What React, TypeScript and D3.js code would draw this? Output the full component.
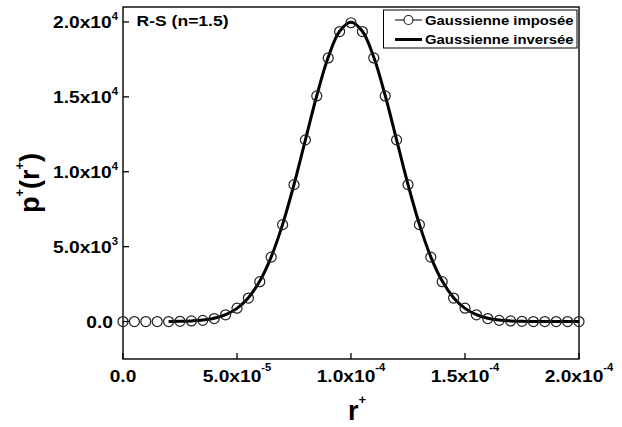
import React from "react";
import * as d3 from "d3";

// r+ positions of the imposed Gaussian markers
const rImposed = [
  0, 0.000005, 0.00001, 0.000015, 0.00002, 0.000025, 0.00003, 0.000035, 0.00004, 0.000045,
  0.00005, 0.000055, 0.00006, 0.000065, 0.00007, 0.000075, 0.00008, 0.000085, 0.00009, 0.000095,
  0.0001, 0.000105, 0.00011, 0.000115, 0.00012, 0.000125, 0.00013, 0.000135, 0.00014, 0.000145,
  0.00015, 0.000155, 0.00016, 0.000165, 0.00017, 0.000175, 0.00018, 0.000185, 0.00019, 0.000195,
  0.0002,
];
const pImposed = [
  0, 0, 0, 0, 0, 15, 40, 80, 200, 450,
  890, 1570, 2660, 4300, 6470, 9140, 12130, 15060, 17600, 19360,
  19950, 19360, 17600, 15060, 12130, 9140, 6470, 4300, 2660, 1570,
  890, 450, 200, 80, 40, 15, 0, 0, 0, 0,
  0,
];

// r+ positions of the inverted Gaussian curve
const rInverse = [
  0.00002, 0.000025, 0.00003, 0.000035, 0.00004, 0.000045,
  0.00005, 0.000055, 0.00006, 0.000065, 0.00007, 0.000075, 0.00008, 0.000085, 0.00009, 0.000095,
  0.0001, 0.000105, 0.00011, 0.000115, 0.00012, 0.000125, 0.00013, 0.000135, 0.00014, 0.000145,
  0.00015, 0.000155, 0.00016, 0.000165, 0.00017, 0.000175, 0.00018, 0.000185, 0.00019, 0.000195,
  0.0002,
];
const pInverse = [
  0, 15, 45, 100, 220, 455,
  880, 1590, 2700, 4320, 6490, 9150, 12130, 15090, 17640, 19380,
  19980, 19380, 17640, 15090, 12130, 9150, 6490, 4320, 2700, 1590,
  880, 455, 220, 100, 45, 15, 0, 0, 0, 0,
  0,
];

const xTicks = [0, 0.00005, 0.0001, 0.00015, 0.0002];
const xTickMant = ["0.0", "5.0x10", "1.0x10", "1.5x10", "2.0x10"];
const xTickExp = ["", "-5", "-4", "-4", "-4"];
const yTicks = [0, 5000, 10000, 15000, 20000];
const yTickMant = ["0.0", "5.0x10", "1.0x10", "1.5x10", "2.0x10"];
const yTickExp = ["", "3", "4", "4", "4"];

const legendLabels = ["Gaussienne imposée", "Gaussienne inversée"];
const annotation = "R-S (n=1.5)";

const FONT = "'Liberation Sans', Arial, sans-serif";

export default function App() {
  const W = 622, H = 427;
  const left = 123, right = 579, top = 7, bottom = 359;
  const x = d3.scaleLinear().domain([0, 0.0002]).range([left, right]);
  const y = d3.scaleLinear().domain([-2500, 21000]).range([bottom, top]);

  const line = d3
    .line<number>()
    .x((_, i) => x(rInverse[i]))
    .y((d) => y(d))
    .curve(d3.curveCatmullRom.alpha(0.5));

  const sx = 1.13;

  return (
    <svg
      width={W}
      height={H}
      style={{ position: "absolute", left: 0, top: 0, background: "#fff" }}
      fontFamily={FONT}
      fontWeight="bold"
    >
      <rect x={0} y={0} width={W} height={H} fill="#fff" />
      {/* frame */}
      <rect x={left} y={top} width={right - left} height={bottom - top} fill="none" stroke="#000" strokeWidth={1.4} />
      {/* x ticks */}
      {xTicks.map((t, i) => (
        <g key={"xt" + i}>
          <line x1={x(t)} x2={x(t)} y1={bottom} y2={bottom - 6} stroke="#000" strokeWidth={1.3} />
          <text
            transform={`translate(${x(t)},382) scale(${sx},1)`}
            textAnchor="middle"
            fontSize={17}
            fill="#000"
          >
            {xTickMant[i]}
            {xTickExp[i] && (
              <tspan dy={-11} fontSize={10}>
                {xTickExp[i]}
              </tspan>
            )}
          </text>
        </g>
      ))}
      {/* y ticks */}
      {yTicks.map((t, i) => (
        <g key={"yt" + i}>
          <line x1={left} x2={left + 6} y1={y(t)} y2={y(t)} stroke="#000" strokeWidth={1.3} />
          <text
            transform={`translate(${yTickExp[i] ? 118 : 113},${y(t) + 6}) scale(${sx},1)`}
            textAnchor="end"
            fontSize={17}
            fill="#000"
          >
            {yTickMant[i]}
            {yTickExp[i] && (
              <tspan dy={-8} fontSize={10}>
                {yTickExp[i]}
              </tspan>
            )}
          </text>
        </g>
      ))}
      {/* axis titles */}
      <text transform={`translate(357,420)`} textAnchor="middle" fontSize={27} fill="#000">
        r
        <tspan dy={-16} fontSize={13}>
          +
        </tspan>
      </text>
      <text transform={`translate(39,183) rotate(-90)`} textAnchor="middle" fontSize={27} fill="#000">
        p
        <tspan dy={-15} fontSize={13}>
          +
        </tspan>
        <tspan dy={15}>(r</tspan>
        <tspan dy={-15} fontSize={13}>
          +
        </tspan>
        <tspan dy={15}>)</tspan>
      </text>
      {/* annotation */}
      <text transform={`translate(136.5,26) scale(1.17,1)`} fontSize={15} fill="#000">
        {annotation}
      </text>
      {/* inverted gaussian line */}
      <path d={line(pInverse) || ""} fill="none" stroke="#000" strokeWidth={3} strokeLinejoin="round" />
      {/* imposed gaussian markers */}
      {pImposed.map((v, i) => (
        <circle key={"c" + i} cx={x(rImposed[i])} cy={y(v)} r={5} fill="none" stroke="#222" strokeWidth={1.2} />
      ))}
      {/* legend */}
      <rect x={383.5} y={10} width={193.5} height={38} fill="#fff" stroke="#000" strokeWidth={1} />
      <line x1={395} x2={422} y1={20} y2={20} stroke="#000" strokeWidth={1} />
      <circle cx={408.5} cy={20} r={4.5} fill="#fff" stroke="#222" strokeWidth={1.2} />
      <line x1={395} x2={422} y1={39.5} y2={39.5} stroke="#000" strokeWidth={3} />
      <text transform={`translate(425,24.5) scale(1.17,1)`} fontSize={12.7} fill="#000">
        {legendLabels[0]}
      </text>
      <text transform={`translate(425,44) scale(1.17,1)`} fontSize={12.7} fill="#000">
        {legendLabels[1]}
      </text>
    </svg>
  );
}
